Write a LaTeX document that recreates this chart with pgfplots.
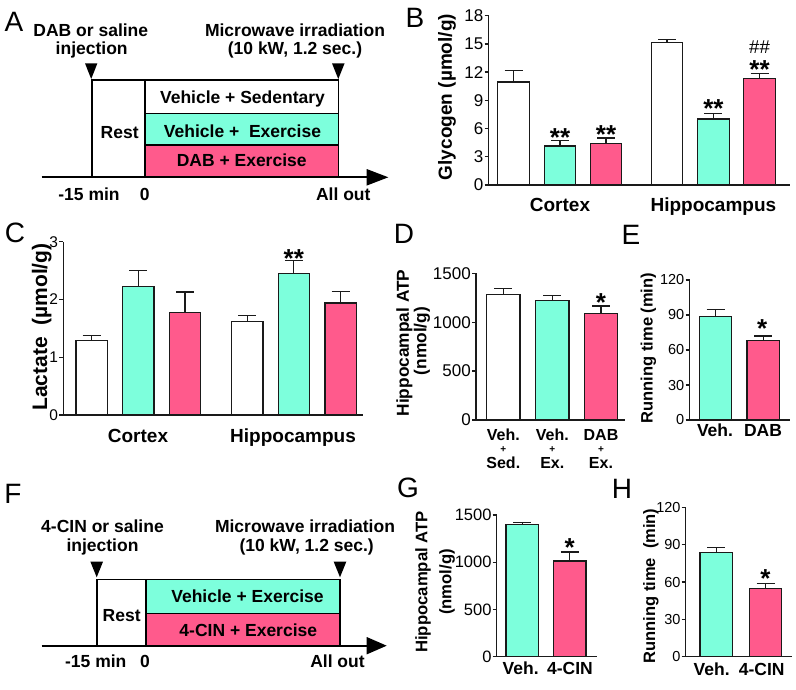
\documentclass[border=0pt]{standalone}
\usepackage{pgfplots}
\pgfplotsset{compat=1.18}
\usepackage{fontspec}
\setmainfont{Liberation Sans}

\definecolor{vehc}{HTML}{7DFFDC}
\definecolor{dabc}{HTML}{FF5A8C}
\definecolor{edge}{HTML}{1A1A1A}
\newcommand{\fs}[1]{\fontsize{#1}{#1}\selectfont}

\pgfplotsset{
  panel/.style={
    scale only axis, clip=false,
    axis x line*=bottom, axis y line*=left,
    axis line style={line width=1.3pt, edge, -},
    xmin=0, ymin=0,
    ytick align=outside, ytick pos=left,
    xtick=\empty,
    major tick length=4pt,
    tick style={line width=1.3pt, edge},
    /pgf/number format/assume math mode=true,
    /pgf/number format/1000 sep={},
    yticklabel style={font=\fs{17}, inner xsep=1pt},
    extra x tick style={major tick length=0pt},
    xticklabel style={font=\bfseries\fs{17.5}, anchor=base},
  },
  mybar/.style={ybar, bar shift=0pt, fill=#1, draw=edge, line width=1.3pt,
    error bars/y dir=plus, error bars/y explicit,
    error bars/error bar style={line width=1.3pt, edge},
    error bars/error mark options={rotate=90, line width=1.3pt, mark size=9pt, edge}},
}

\begin{document}
\begin{tikzpicture}
\useasboundingbox (0,0) rectangle (796pt,-689pt);

% B: glycogen
\begin{axis}[panel, at={(488.5pt,-185pt)}, anchor=south west,
  width=301.5pt, height=169.3pt, xmax=301.5, ymax=18, ytick={0,3,...,18},
  extra x ticks={71.5,224.9}, extra x tick labels={Cortex,Hippocampus},
  xticklabel style={font=\bfseries\fs{19}, yshift=-26.7pt}]
\addplot[mybar=white, bar width=31.5] coordinates {(25,10.95) +- (0,1.2) (178.5,15.13) +- (0,0.36)};
\addplot[mybar=vehc, bar width=31.5] coordinates {(71.5,4.15) +- (0,0.56) (224.9,7.02) +- (0,0.6)};
\addplot[mybar=dabc, bar width=31.5] coordinates {(117.5,4.43) +- (0,0.57) (271,11.34) +- (0,0.5)};
\end{axis}

% C: lactate
\begin{axis}[panel, at={(63.3pt,-415pt)}, anchor=south west,
  width=299.7pt, height=173.3pt, xmax=299.7, ymax=3, ytick={0,1,2,3},
  yticklabel style={font=\fs{15.5}},
  extra x ticks={74.7,229.7}, extra x tick labels={Cortex,Hippocampus},
  xticklabel style={font=\bfseries\fs{19}, yshift=-27.7pt}]
\addplot[mybar=white, bar width=31.3] coordinates {(28.4,1.29) +- (0,0.09) (183.9,1.62) +- (0,0.10)};
\addplot[mybar=vehc, bar width=31.3] coordinates {(75,2.23) +- (0,0.27) (230.5,2.45) +- (0,0.22)};
\addplot[mybar=dabc, bar width=31.3] coordinates {(121.7,1.78) +- (0,0.35) (277.2,1.94) +- (0,0.20)};
\end{axis}

% D: hippocampal ATP
\begin{axis}[panel, at={(476pt,-420pt)}, anchor=south west,
  width=149pt, height=146.7pt, xmax=149, ymax=1500, ytick={0,500,1000,1500}]
\addplot[mybar=white, bar width=33.3] coordinates {(27.3,1286) +- (0,61)};
\addplot[mybar=vehc, bar width=33.3] coordinates {(76.3,1224) +- (0,52)};
\addplot[mybar=dabc, bar width=33.3] coordinates {(125,1088) +- (0,79)};
\end{axis}

% E: running time
\begin{axis}[panel, at={(689.5pt,-420pt)}, anchor=south west,
  width=100.5pt, height=140pt, xmax=100.5, ymax=120, ytick={0,30,...,120},
  yticklabel style={font=\fs{14.5}},
  extra x ticks={25.5,73.5}, extra x tick labels={Veh.,DAB},
  xticklabel style={yshift=-16.7pt}]
\addplot[mybar=vehc, bar width=32.4] coordinates {(26,89) +- (0,6)};
\addplot[mybar=dabc, bar width=32.4] coordinates {(73.8,68) +- (0,4)};
\end{axis}

% G: hippocampal ATP, 4-CIN
\begin{axis}[panel, at={(496.7pt,-656.7pt)}, anchor=south west,
  width=100pt, height=141.7pt, xmax=100, ymax=1500, ytick={0,500,1000,1500},
  yticklabel style={font=\fs{16.5}},
  extra x ticks={24,73.3}, extra x tick labels={Veh.,4-CIN},
  xticklabel style={yshift=-17.3pt}]
\addplot[mybar=vehc, bar width=32.3] coordinates {(25.5,1401) +- (0,17)};
\addplot[mybar=dabc, bar width=32.3] coordinates {(73.1,1013) +- (0,95)};
\end{axis}

% H: running time, 4-CIN
\begin{axis}[panel, at={(685.7pt,-656.7pt)}, anchor=south west,
  width=106pt, height=149.4pt, xmax=106, ymax=120, ytick={0,30,...,120},
  yticklabel style={font=\fs{14.5}},
  extra x ticks={26,76}, extra x tick labels={Veh.,4-CIN},
  xticklabel style={yshift=-18.3pt}]
\addplot[mybar=vehc, bar width=32.3] coordinates {(30.5,83.8) +- (0,4.1)};
\addplot[mybar=dabc, bar width=32.3] coordinates {(79.8,54.8) +- (0,4)};
\end{axis}

\begin{scope}[x=1pt, y=-1pt]
% panel letters
\foreach \l/\px/\py in {A/14/22, B/415/18, C/15/233, D/404/234, E/631/235, F/13/494, G/408/488, H/622/489}
  \node[font=\fs{28}, inner sep=0pt] at (\px,\py) {\l};

% y labels
\begin{scope}[every node/.style={rotate=90, inner sep=0pt, anchor=center}]
\node[font=\bfseries\fs{19}] at (447,97) {Glycogen (µmol/g)};
\node[font=\bfseries\fs{21}] at (41.7,327) {Lactate \ (µmol/g)};
\node[font=\bfseries\fs{17.3}] at (404.5,343) {Hippocampal ATP};
\node[font=\bfseries\fs{17.3}] at (422,341) {(nmol/g)};
\node[font=\bfseries\fs{16.5}] at (648.5,348) {Running time (min)};
\node[font=\bfseries\fs{16.7}] at (423,582) {Hippocampal ATP};
\node[font=\bfseries\fs{16.7}] at (447,582) {(nmol/g)};
\node[font=\bfseries\fs{16.5}] at (651,586) {Running time \ (min)};
\end{scope}

% D group labels (three stacked lines per bar)
\begin{scope}[every node/.style={font=\bfseries\fs{16}, inner sep=0pt, anchor=base}]
\foreach \cx/\top/\bot in {503.3/Veh./Sed., 552.3/Veh./Ex., 601/DAB/Ex.} {
  \node at (\cx,440.5) {\top};
  \node[font=\bfseries\fs{10}] at (\cx,452.3) {+};
  \node at (\cx,468) {\bot};
}
\end{scope}

% significance marks
\begin{scope}[every node/.style={font=\bfseries\fs{26}, inner sep=0pt, anchor=base}]
\node at (560,146) {**};
\node at (606,143.6) {**};
\node at (713.4,117.6) {**};
\node at (759.5,78.5) {**};
\node at (293.8,267.3) {**};
\node at (601,311.3) {*};
\node at (762.3,337.3) {*};
\node at (569.8,556) {*};
\node at (765.5,587.6) {*};
\end{scope}
\node[font=\fs{18.6}, inner sep=0pt] at (759.5,46.8) {\#\#};

% schematic A
\begin{scope}[line width=1.6pt, every node/.style={font=\bfseries\fs{17.5}, inner sep=0pt, anchor=base}]
\filldraw[fill=white] (91.7,80) rectangle (145,177.3);
\filldraw[fill=white] (145,80) rectangle (338.3,113.3);
\filldraw[fill=vehc] (145,113.3) rectangle (338.3,145);
\filldraw[fill=dabc] (145,145) rectangle (338.3,177.3);
\draw[line width=2pt] (41.7,177.3) -- (370,177.3);
\fill (366.7,169) -- (388.3,177.3) -- (366.7,185.6) -- cycle;
\fill (85,63.3) -- (97.4,63.3) -- (91.2,79) -- cycle;
\fill (332,63.3) -- (344.6,63.3) -- (338.3,79) -- cycle;
\node at (90.8,36.7) {DAB or saline};
\node at (91.7,54.3) {injection};
\node at (295,36.7) {Microwave irradiation};
\node at (295,54.3) {(10 kW, 1.2 sec.)};
\node at (242.5,103) {Vehicle + Sedentary};
\node at (242.5,137.3) {Vehicle + \ Exercise};
\node at (241.7,166.7) {DAB + Exercise};
\node at (119.7,138.3) {Rest};
\node at (89,200) {-15 min};
\node at (144.7,200) {0};
\node at (343.3,200) {All out};
\end{scope}

% schematic F
\begin{scope}[line width=1.6pt, every node/.style={font=\bfseries\fs{17.5}, inner sep=0pt, anchor=base}]
\filldraw[fill=white] (96.7,579.3) rectangle (145.7,645.7);
\filldraw[fill=vehc] (145.7,579.3) rectangle (340,613.3);
\filldraw[fill=dabc] (145.7,613.3) rectangle (340,645.7);
\draw[line width=2pt] (41.7,645.7) -- (370,645.7);
\fill (366.7,637) -- (386.7,645.7) -- (366.7,654.4) -- cycle;
\fill (90.4,561.7) -- (103,561.7) -- (96.7,577.3) -- cycle;
\fill (333.7,561.7) -- (346.3,561.7) -- (340,577.3) -- cycle;
\node at (102.5,532.7) {4-CIN or saline};
\node at (102.5,551) {injection};
\node at (305,532.7) {Microwave irradiation};
\node at (306.7,551) {(10 kW, 1.2 sec.)};
\node at (247.5,602.7) {Vehicle + Exercise};
\node at (248.3,636.7) {4-CIN + Exercise};
\node at (121.7,621.7) {Rest};
\node at (95.8,667.3) {-15 min};
\node at (145,667.3) {0};
\node at (337.5,667.3) {All out};
\end{scope}
\end{scope}
\end{tikzpicture}
\end{document}
